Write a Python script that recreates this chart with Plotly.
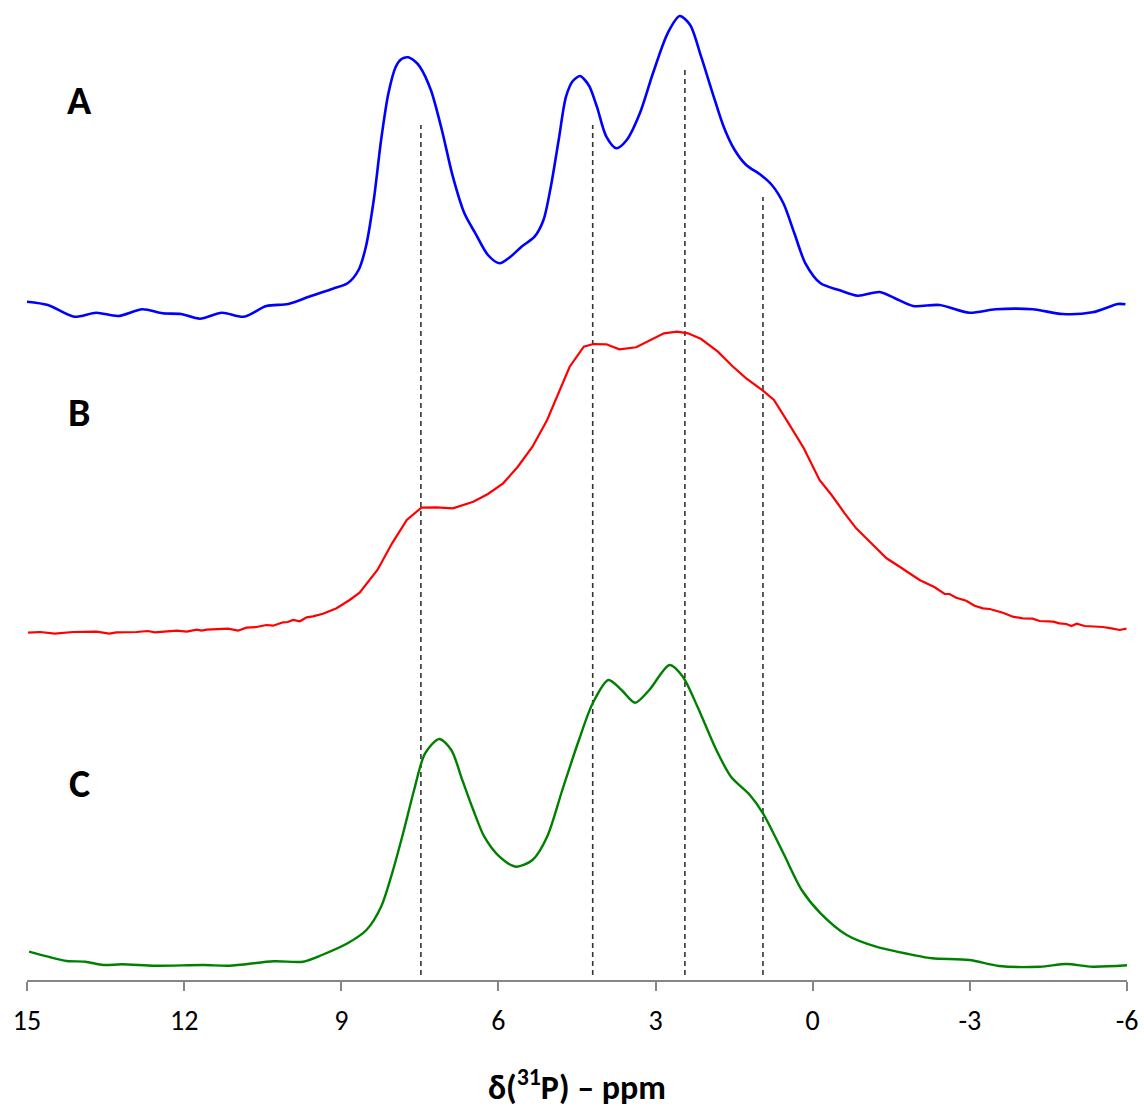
import plotly.graph_objects as go

# ---------------- data ----------------
# Spectrum A (blue): chemical shift (ppm) and intensity (a.u., relative to its own baseline)
a_ppm = [15.0, 14.60, 14.10, 13.68, 13.26, 12.80, 12.41, 12.06, 11.70, 11.28, 10.86, 10.43, 10.01,
         9.58, 9.16, 8.88, 8.67, 8.53, 8.38, 8.24, 8.10, 7.96, 7.85, 7.73, 7.60, 7.50, 7.29, 7.08, 6.87,
         6.65, 6.44, 6.20, 5.98, 5.77, 5.56, 5.31, 5.14, 5.00, 4.85, 4.71, 4.58, 4.44, 4.35, 4.26, 4.12,
         3.94, 3.75, 3.55, 3.30, 3.05, 2.77, 2.54, 2.34, 2.13, 1.91, 1.70, 1.49, 1.27, 0.99, 0.78, 0.56,
         0.35, 0.14, -0.15, -0.50, -0.86, -1.28, -1.57, -1.92, -2.42, -2.99, -3.49, -4.20, -4.77,
         -5.34, -5.83, -5.97]
a_int = [13.3, 10.0, -1.7, 2.3, -1.0, 5.7, 1.7, 1.0, -3.7, 2.3, -1.7, 9.0, 11.0,
         19.0, 26.3, 31.7, 45.0, 68.3, 115.0, 175.0, 221.7, 248.3, 256.0, 257.7, 254.0, 248.3, 225.0, 185.0, 138.3,
         101.7, 81.7, 60.0, 51.7, 58.3, 68.3, 78.3, 95.0, 128.3, 175.0, 218.3, 234.0, 239.0, 235.0, 228.3, 208.3,
         178.3, 166.7, 175.0, 201.7, 241.7, 281.7, 299.0, 290.0, 258.3, 221.7, 188.3, 165.0, 150.0, 140.0, 130.0, 111.7,
         81.7, 51.7, 31.7, 25.0, 19.3, 23.0, 16.7, 9.0, 10.0, 2.3, 5.7, 5.7, 1.0,
         2.7, 11.0, 10.7]

# Spectrum B (red)
b_ppm = [14.98, 14.75, 14.47, 14.12, 13.67, 13.43, 13.29, 12.91, 12.69, 12.56, 12.14, 11.95, 11.76,
         11.67, 11.57, 11.16, 10.97, 10.81, 10.62, 10.43, 10.30, 10.11, 10.02, 9.92, 9.79, 9.66, 9.54,
         9.35, 9.09, 8.84, 8.65, 8.49, 8.31, 8.03, 7.75, 7.47, 7.19, 6.87, 6.48, 6.20, 5.91, 5.63, 5.35,
         5.07, 4.85, 4.64, 4.37, 4.19, 3.94, 3.69, 3.37, 3.16, 2.84, 2.59, 2.38, 2.13, 1.81, 1.52, 1.27,
         0.95, 0.74, 0.46, 0.17, -0.13, -0.36, -0.61, -0.83, -1.09, -1.41, -1.66, -2.04, -2.33, -2.52,
         -2.61, -2.74, -2.93, -3.09, -3.25, -3.38, -3.63, -3.82, -4.01, -4.20, -4.33, -4.59, -4.71,
         -4.84, -4.94, -5.04, -5.19, -5.54, -5.73, -5.86, -5.99]
b_int = [-0.7, 0.0, -1.7, 0.0, 0.3, -1.7, -0.3, 0.0, 1.0, -0.3, 1.3, 0.3, 2.3,
         1.3, 2.3, 3.3, 1.3, 4.3, 5.0, 7.0, 6.3, 9.7, 10.0, 12.0, 10.7, 14.7, 15.7,
         18.3, 23.7, 32.0, 39.3, 50.3, 62.0, 88.7, 112.0, 124.3, 124.7, 123.7, 130.3, 138.0, 148.7, 165.3, 185.3,
         212.0, 238.7, 265.3, 285.3, 288.0, 287.7, 282.7, 284.7, 290.3, 298.7, 300.3, 298.7, 293.0, 280.3, 265.3, 253.7,
         241.3, 232.0, 208.7, 183.7, 152.0, 137.0, 118.7, 103.7, 90.3, 73.7, 65.3, 52.0, 44.7, 38.0,
         38.0, 34.3, 31.3, 26.3, 23.7, 23.0, 19.3, 15.3, 13.7, 13.3, 11.0, 10.3, 8.7,
         8.0, 6.0, 8.3, 6.0, 5.0, 3.3, 2.0, 3.3]

# Spectrum C (green)
c_ppm = [14.96, 14.60, 14.24, 13.89, 13.54, 13.19, 12.55, 11.63, 11.14, 10.29, 9.73, 9.37, 8.88,
         8.52, 8.24, 8.03, 7.82, 7.61, 7.40, 7.13, 6.90, 6.69, 6.48, 6.27, 5.98, 5.67, 5.35, 5.07,
         4.78, 4.47, 4.20, 3.90, 3.65, 3.39, 3.12, 2.73, 2.48, 2.20, 1.84, 1.56, 1.20, 0.95, 0.56,
         0.21, -0.15, -0.65, -1.21, -1.92, -2.28, -2.99, -3.56, -4.34, -4.84, -5.34, -6.0]
c_int = [13.3, 8.3, 4.0, 3.3, 0.0, 0.7, -0.7, 0.0, -0.7, 3.7, 3.3, 10.0, 21.7,
         35.0, 58.3, 91.7, 131.7, 175.0, 211.7, 226.0, 215.0, 185.0, 155.0, 128.3, 108.3, 98.3, 105.0, 128.3,
         175.0, 224.0, 261.7, 285.0, 275.0, 262.3, 275.0, 300.0, 288.3, 258.3, 215.0, 188.3, 170.0, 151.7, 111.7,
         75.0, 51.7, 30.0, 18.3, 10.0, 6.7, 5.0, -1.0, -1.7, 1.0, -1.7, -0.3]

labels = ["A", "B", "C"]
ref_ppm = [7.48, 4.20, 2.44, 0.95]          # dashed reference positions
ref_top = [855, 855, 910, 783]              # dashed line top (stacked intensity units)
tick_vals = [15, 12, 9, 6, 3, 0, -3, -6]
tick_text = ["15", "12", "9", "6", "3", "0", "-3", "-6"]

# ---------------- styling / layout ----------------
offsets = {"A": 665, "B": 348, "C": 15}
colors = {"A": "#0000FF", "B": "#FF0000", "C": "#008000"}
widths = {"A": 2.6, "B": 2.2, "C": 2.4}
shapes_ = {"A": "spline", "B": "linear", "C": "spline"}
series = {"A": (a_ppm, a_int), "B": (b_ppm, b_int), "C": (c_ppm, c_int)}
label_y = {"A": 880, "B": 568, "C": 197}

font_num = "Carlito, 'Liberation Sans Narrow', 'Arial Narrow', 'Liberation Sans', sans-serif"
font_bold = "Carlito, 'Liberation Sans', Arial, sans-serif"

fig = go.Figure()
for k in labels:
    px, py = series[k]
    fig.add_trace(go.Scatter(
        x=px, y=[v + offsets[k] for v in py], mode="lines",
        line=dict(color=colors[k], width=widths[k], shape=shapes_[k], smoothing=0.8),
        showlegend=False, hoverinfo="skip"))

for xp, top in zip(ref_ppm, ref_top):
    fig.add_shape(type="line", xref="x", yref="y", x0=xp, x1=xp, y0=5, y1=top,
                  line=dict(color="#333333", width=1.6, dash="5px,4px"), layer="below")

for k in labels:
    fig.add_annotation(x=14.0, y=label_y[k], xref="x", yref="y", text="<b>%s</b>" % k,
                       showarrow=False, font=dict(family=font_bold, size=40, color="black"),
                       xanchor="center", yanchor="middle")

fig.add_annotation(x=0.5, y=-0.108, xref="paper", yref="paper",
                   text="<b>δ(<sup>31</sup>P) – ppm</b>", showarrow=False,
                   font=dict(family=font_bold, size=34, color="black"),
                   xanchor="center", yanchor="middle")

fig.update_layout(
    width=1144, height=1106,
    margin=dict(l=27, r=17, t=10, b=126, autoexpand=False),
    paper_bgcolor="white", plot_bgcolor="white",
    xaxis=dict(range=[15, -6], tickvals=tick_vals, ticktext=tick_text, automargin=False,
               showline=True, linecolor="#868686", linewidth=1.5,
               ticks="outside", ticklen=9, tickwidth=1.5, tickcolor="#868686",
               showgrid=False, zeroline=False, ticklabelstandoff=6,
               tickfont=dict(family=font_num, size=28, color="black")),
    yaxis=dict(range=[0, 970], visible=False, showgrid=False, zeroline=False, automargin=False),
)

# remove the default page margin so the figure fills the window exactly
fig.write_html("out.html", config={"displayModeBar": False},
               post_script="document.body.style.margin='0';document.body.style.overflow='hidden';")
